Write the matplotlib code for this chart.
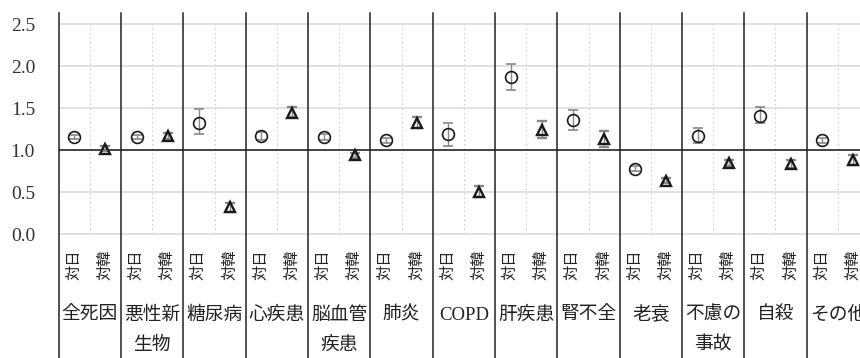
import matplotlib
matplotlib.use("Agg")
import matplotlib.pyplot as plt
import matplotlib.transforms as mtransforms

plt.rcParams['font.family'] = ['Liberation Serif', 'Noto Sans CJK JP']

# ---------------------------------------------------------
# Data: ratio (point, lower, upper) per cause of death
# ---------------------------------------------------------
causes = ["全死因", "悪性新\n生物", "糖尿病", "心疾患", "脳血管\n疾患", "肺炎", "COPD",
          "肝疾患", "腎不全", "老衰", "不慮の\n事故", "自殺", "その他"]
pair_labels = ["対日", "対韓"]

jp_val = [1.16, 1.16, 1.33, 1.17, 1.16, 1.12, 1.19, 1.87, 1.36, 0.78, 1.17, 1.41, 1.12]
jp_lo = [1.14, 1.14, 1.19, 1.12, 1.12, 1.09, 1.05, 1.72, 1.24, 0.75, 1.09, 1.32, 1.09]
jp_hi = [1.18, 1.18, 1.49, 1.22, 1.20, 1.15, 1.33, 2.03, 1.48, 0.81, 1.26, 1.52, 1.15]

kr_val = [1.02, 1.17, 0.32, 1.45, 0.94, 1.33, 0.50, 1.24, 1.13, 0.64, 0.85, 0.84, 0.88]
kr_lo = [0.99, 1.13, 0.27, 1.40, 0.91, 1.26, 0.44, 1.15, 1.04, 0.61, 0.81, 0.79, 0.82]
kr_hi = [1.05, 1.21, 0.37, 1.51, 0.97, 1.40, 0.57, 1.35, 1.23, 0.67, 0.89, 0.89, 0.94]

yticks = [0.0, 0.5, 1.0, 1.5, 2.0, 2.5]

# ---------------------------------------------------------
# Figure
# ---------------------------------------------------------
W, H = 860, 358
fig = plt.figure(figsize=(W / 100, H / 100), dpi=100)

n = len(causes)
panel_px = 62.33
ax_left, ax_top, ax_bottom = 58.7, 13.0, 240.0
ax = fig.add_axes([ax_left / W, 1 - ax_bottom / H, n * panel_px / W, (ax_bottom - ax_top) / H])

px_per_unit = 84.0
y0_px = 234.3
ax.set_ylim(-(ax_bottom - y0_px) / px_per_unit, (y0_px - ax_top) / px_per_unit)
ax.set_xlim(0, n)

for s in ax.spines.values():
    s.set_visible(False)

# horizontal grid, reference line at 1.0
for yv in yticks:
    if yv == 1.0:
        ax.axhline(yv, color='#222222', lw=1.2, zorder=2)
    else:
        ax.axhline(yv, color='#dcdcdc', lw=1.2, zorder=1)

# dotted divider between the two pairs of each cause
ax.vlines([i + 0.5 for i in range(n)], 0, 2.5, colors='#cfcfcf', linestyles=(0, (1.5, 2.5)), lw=0.8, zorder=1)

# solid separators between causes, running down through the label area
trans = mtransforms.blended_transform_factory(ax.transData, fig.transFigure)
for i in range(n + 1):
    ax.plot([i, i], [0, 1 - ax_top / H], color='#222222', lw=1.1, transform=trans, clip_on=False, zorder=3)

x_jp = [i + 0.25 for i in range(n)]
x_kr = [i + 0.75 for i in range(n)]

err_jp = [[v - lo for v, lo in zip(jp_val, jp_lo)], [hi - v for v, hi in zip(jp_val, jp_hi)]]
err_kr = [[v - lo for v, lo in zip(kr_val, kr_lo)], [hi - v for v, hi in zip(kr_val, kr_hi)]]

ax.errorbar(x_jp, jp_val, yerr=err_jp, fmt='o', ms=8.5, mfc='none', mec='#1a1a1a', mew=1.2,
            ecolor='#888888', elinewidth=1.0, capsize=3.6, capthick=1.0, zorder=4)
ax.errorbar(x_kr, kr_val, yerr=err_kr, fmt='^', ms=7.5, mfc='none', mec='#1a1a1a', mew=1.7,
            ecolor='#888888', elinewidth=1.0, capsize=3.6, capthick=1.0, zorder=4)

# y axis labels
ax.set_yticks(yticks)
ax.set_yticklabels([f"{v:.1f}" for v in yticks], fontsize=14, color='#333333')
ax.tick_params(axis='y', length=0, pad=17)

# pair labels under each cause
ax.set_xticks(x_jp + x_kr)
ax.set_xticklabels(pair_labels[:1] * n + pair_labels[1:] * n, rotation=90, fontsize=11,
                   color='#222222', va='top')
ax.tick_params(axis='x', length=0, pad=7)

# cause names, one or two lines
line_px = [315, 345]
for i, name in enumerate(causes):
    for j, part in enumerate(name.split("\n")):
        ax.text(i + 0.5, 1 - line_px[j] / H, part, transform=trans, ha='center', va='center',
                fontsize=13.5, color='#222222', clip_on=False)

fig.savefig("out.png", dpi=100)
